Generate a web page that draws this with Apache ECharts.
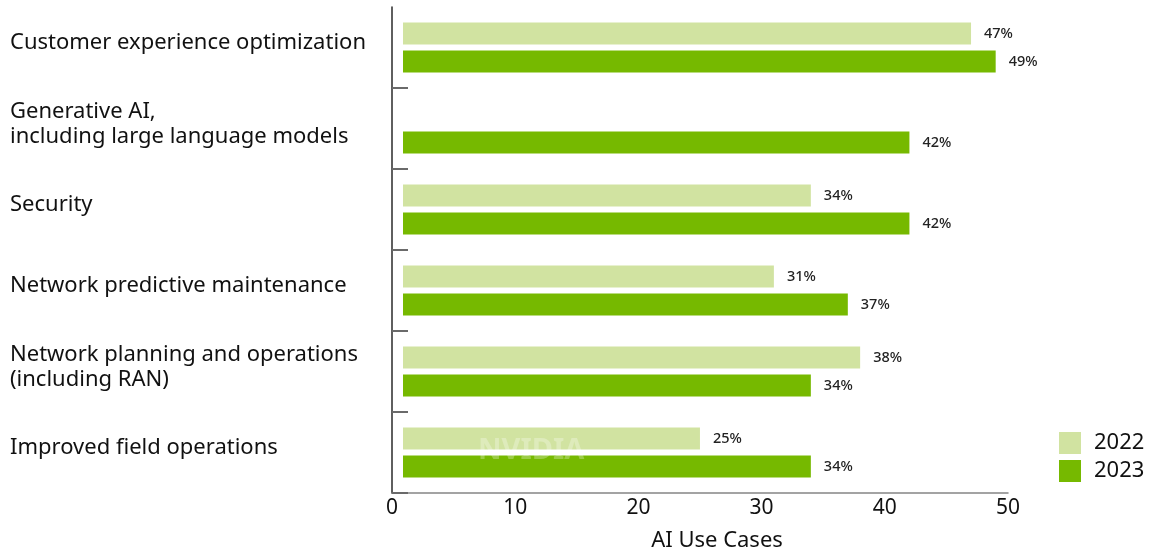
<!DOCTYPE html>
<html>
<head>
<meta charset="utf-8">
<script src="https://cdn.jsdelivr.net/npm/echarts@6/dist/echarts.min.js"></script>
<style>
  html, body { margin: 0; padding: 0; background: #fff; }
  #chart { width: 1149px; height: 552px; }
</style>
</head>
<body>
<div id="chart"></div>
<script>
// use cases, top to bottom
var useCases = [
    'Customer experience optimization',
    'Generative AI,\nincluding large language models',
    'Security',
    'Network predictive maintenance',
    'Network planning and operations\n(including RAN)',
    'Improved field operations'
];
// share of respondents (%)
var share2022 = [47, null, 34, 31, 38, 25];
var share2023 = [49, 42, 42, 37, 34, 34];
var xTicks = [0, 10, 20, 30, 40, 50];

var light = '#d1e3a1';
var green = '#76b900';
var font = 'Noto Sans';

var chart = echarts.init(document.getElementById('chart'));

var barLabel = {
    show: true,
    position: 'right',
    distance: 13,
    formatter: '{c}%',
    color: '#222',
    fontFamily: font,
    fontSize: 14.5,
    fontWeight: 500
};

var option = {
    animation: false,
    textStyle: { fontFamily: font },
    grid: [
        // axes grid
        { left: 392, top: 7, width: 616, height: 486, containLabel: false, outerBoundsMode: 'none' },
        // bars grid (bars begin slightly right of the axis line)
        { left: 403, top: 7, width: 605, height: 486, containLabel: false, outerBoundsMode: 'none' }
    ],
    xAxis: [
        {
            gridIndex: 0,
            type: 'value',
            min: xTicks[0],
            max: xTicks[xTicks.length - 1],
            interval: 10,
            splitLine: { show: false },
            axisTick: { show: false },
            axisLine: { show: true, lineStyle: { color: '#858585', width: 1.5 } },
            axisLabel: { color: '#111', fontSize: 21, margin: 5 },
            name: 'AI Use Cases',
            nameLocation: 'middle',
            nameGap: 37,
            nameTextStyle: { color: '#111', fontSize: 22, padding: [0, 0, 0, 34] }
        },
        {
            gridIndex: 1,
            type: 'value',
            min: 0.9,
            max: 50,
            show: false
        }
    ],
    yAxis: [
        {
            gridIndex: 0,
            type: 'category',
            inverse: true,
            data: useCases,
            axisLine: { show: true, lineStyle: { color: '#2a2a2a', width: 1.5 } },
            axisTick: {
                show: true,
                inside: true,
                length: 16,
                interval: function (i) { return i > 0; },
                lineStyle: { color: '#6a6a6a', width: 2 }
            },
            axisLabel: {
                align: 'left',
                margin: 382,
                color: '#111',
                fontSize: 22,
                lineHeight: 25,
                // empty short line below lifts the label a little
                formatter: function (v) { return v + '\n{gap|}'; },
                rich: { gap: { lineHeight: 9, fontSize: 1 } }
            }
        },
        {
            gridIndex: 1,
            type: 'category',
            inverse: true,
            data: useCases,
            show: false
        }
    ],
    legend: {
        orient: 'vertical',
        left: 1054,
        top: 427,
        itemWidth: 22,
        itemHeight: 22,
        itemGap: 6,
        icon: 'rect',
        textStyle: { fontSize: 22, color: '#111', padding: [0, 0, 0, 8] },
        data: ['2022', '2023']
    },
    graphic: [
        {
            type: 'text',
            left: 478,
            top: 436,
            z: 100,
            style: {
                text: 'NVIDIA',
                fill: 'rgba(255,255,255,0.28)',
                font: 'bold 29px "Noto Sans"'
            }
        }
    ],
    series: [
        {
            name: '2022',
            type: 'bar',
            xAxisIndex: 1,
            yAxisIndex: 1,
            barWidth: 22,
            barGap: '27%',
            itemStyle: { color: light, borderWidth: 0 },
            label: barLabel,
            data: share2022
        },
        {
            name: '2023',
            type: 'bar',
            xAxisIndex: 1,
            yAxisIndex: 1,
            barWidth: 22,
            barGap: '27%',
            itemStyle: { color: green, borderWidth: 0 },
            label: barLabel,
            data: share2023
        }
    ]
};

chart.setOption(option);
</script>
</body>
</html>
